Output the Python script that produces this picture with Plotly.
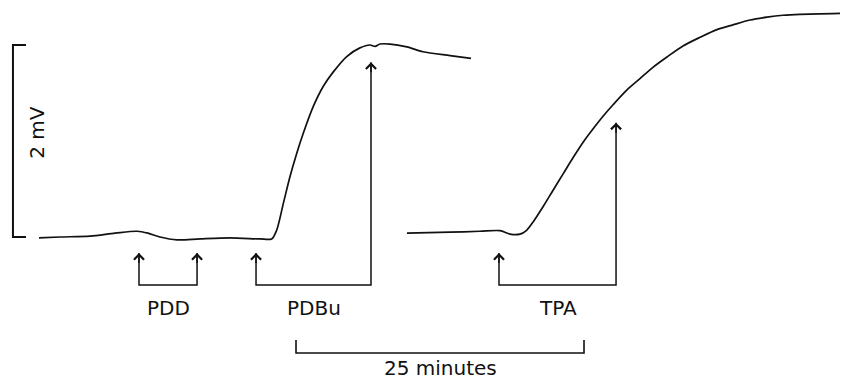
import plotly.graph_objects as go

# ---- data (time in minutes, potential in mV relative to baseline) ----
trace1_t = [0, 1.82, 4.43, 6.60, 8.51, 9.46, 10.50, 11.98, 13.98, 16.58, 19.18, 20.20,
            20.63, 21.21, 21.79, 22.37, 22.94, 23.81, 24.68, 25.55, 26.71, 27.86, 28.73,
            29.17, 29.60, 30.47, 31.94, 33.33, 35.68, 37.50]
trace1_v = [-0.01, 0.0, 0.01, 0.04, 0.06, 0.04, 0.0, -0.03, -0.02, -0.01, -0.02, -0.02,
            0.07, 0.35, 0.63, 0.87, 1.08, 1.36, 1.57, 1.72, 1.88, 1.97, 2.00,
            1.985, 2.01, 2.01, 1.98, 1.93, 1.89, 1.86]

trace2_t = [31.94, 35.68, 38.28, 40.02, 40.89, 41.75, 42.33, 42.91, 43.78, 44.64, 45.51,
            46.38, 47.25, 48.12, 48.98, 49.85, 51.02, 52.17, 53.32, 54.51, 55.90, 57.38,
            58.85, 60.24, 61.72, 63.19, 64.58, 66.06, 69.53]
trace2_v = [0.04, 0.05, 0.06, 0.066, 0.03, 0.03, 0.07, 0.16, 0.32, 0.49, 0.66,
            0.83, 0.99, 1.13, 1.26, 1.38, 1.53, 1.65, 1.77, 1.875, 1.99, 2.08,
            2.16, 2.21, 2.26, 2.29, 2.31, 2.32, 2.33]

drug_names = ["PDD", "PDBu", "TPA"]
drug_start = [8.68, 18.84, 39.93]      # left arrow (application)
drug_end = [13.72, 28.82, 50.09]       # right arrow
drug_end_tip = [-0.167, 1.82, 1.19]    # tip of right arrow (mV)
arrow_low_tip = -0.167
bracket_level = -0.5
label_level = -0.74

time_bar = [22.31, 47.31]   # 25 minutes
time_bar_level = -1.208
time_bar_tick = -1.073
time_label = "25 minutes"

volt_bar = [0.0, 2.0]       # 2 mV
volt_bar_x = -2.26
volt_bar_tick_x = -1.13
volt_label = "2 mV"

INK = "#111111"
FONT = dict(family="DejaVu Sans, Arial, sans-serif", size=20, color=INK)

fig = go.Figure()

# recordings
for tt, vv in [(trace1_t, trace1_v), (trace2_t, trace2_v)]:
    fig.add_trace(go.Scatter(x=tt, y=vv, mode="lines",
                             line=dict(color=INK, width=1.7, shape="spline", smoothing=0.8),
                             hoverinfo="skip"))

annotations = []
# drug application brackets and arrowheads
for name, s, e, tip in zip(drug_names, drug_start, drug_end, drug_end_tip):
    fig.add_trace(go.Scatter(x=[s, s, e, e], y=[arrow_low_tip, bracket_level, bracket_level, tip],
                             mode="lines", line=dict(color=INK, width=1.5),
                             hoverinfo="skip"))
    for xx, yy in [(s, arrow_low_tip), (e, tip)]:
        annotations.append(dict(x=xx, y=yy, ax=xx, ay=yy - 0.12, xref="x", yref="y",
                                axref="x", ayref="y", text="", showarrow=True,
                                arrowhead=4, arrowsize=1.3, arrowwidth=1.5,
                                arrowcolor=INK, standoff=0))
    annotations.append(dict(x=(s + e) / 2, y=label_level, xref="x", yref="y",
                            text=name, showarrow=False, font=FONT))

# time scale bar
fig.add_trace(go.Scatter(x=[time_bar[0], time_bar[0], time_bar[1], time_bar[1]],
                         y=[time_bar_tick, time_bar_level, time_bar_level, time_bar_tick],
                         mode="lines", line=dict(color=INK, width=1.6), hoverinfo="skip"))
annotations.append(dict(x=sum(time_bar) / 2, y=-1.365, xref="x", yref="y",
                        text=time_label, showarrow=False, font=FONT))

# voltage scale bar
fig.add_trace(go.Scatter(x=[volt_bar_tick_x, volt_bar_x, volt_bar_x, volt_bar_tick_x],
                         y=[volt_bar[1], volt_bar[1], volt_bar[0], volt_bar[0]],
                         mode="lines", line=dict(color=INK, width=2), hoverinfo="skip"))
annotations.append(dict(x=-0.13, y=1.09, xref="x", yref="y", text=volt_label,
                        textangle=-90, showarrow=False, font=FONT))

fig.update_layout(
    width=841, height=385,
    margin=dict(l=0, r=0, t=0, b=0),
    paper_bgcolor="white", plot_bgcolor="white",
    showlegend=False,
    annotations=annotations,
    xaxis=dict(range=[-3.385, 69.618], visible=False, fixedrange=True),
    yaxis=dict(range=[-1.5417, 2.46875], visible=False, fixedrange=True),
)

fig.write_html("out.html", config={"displayModeBar": False})
